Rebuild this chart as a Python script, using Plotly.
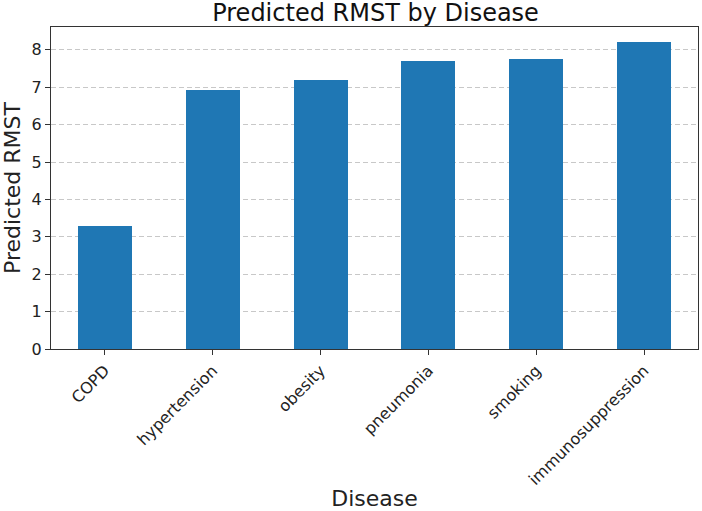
import plotly.graph_objects as go

diseases = ["COPD", "hypertension", "obesity", "pneumonia", "smoking", "immunosuppression"]
rmst = [3.30, 6.92, 7.20, 7.69, 7.75, 8.20]

fig = go.Figure(go.Bar(x=list(range(len(diseases))), y=rmst, width=0.5,
                       marker=dict(color="#1f77b4", line=dict(width=0))))

font = "DejaVu Sans"
fig.update_layout(
    width=702, height=511,
    margin=dict(l=51, r=3, t=27, b=159),
    plot_bgcolor="white", paper_bgcolor="white",
    font=dict(family=font, color="#222222", size=16),
    title=dict(text="Predicted RMST by Disease", x=0.535, xanchor="center",
               y=0.976, yanchor="middle", font=dict(size=24, color="#111111")),
    showlegend=False,
    bargap=0,
)
fig.update_xaxes(
    range=[-0.5, 5.5], tickmode="array", tickvals=list(range(len(diseases))),
    ticktext=diseases, tickangle=-45, ticks="outside", ticklen=5, tickcolor="#333",
    showline=True, linecolor="#333", linewidth=1, mirror=True, showgrid=False,
    zeroline=False, tickfont=dict(size=16),
    title=dict(text="Disease", font=dict(size=22), standoff=4),
)
fig.update_yaxes(
    range=[0, 8.61], tickmode="array", tickvals=list(range(9)), ticks="outside",
    ticklen=5, tickcolor="#333", showline=True, linecolor="#333", linewidth=1,
    mirror=True, showgrid=True, gridcolor="rgba(176,176,176,0.7)", griddash="5px,3px",
    gridwidth=1, zeroline=False, tickfont=dict(size=16),
    title=dict(text="Predicted RMST", font=dict(size=22), standoff=6),
)
fig.write_html("out.html")
